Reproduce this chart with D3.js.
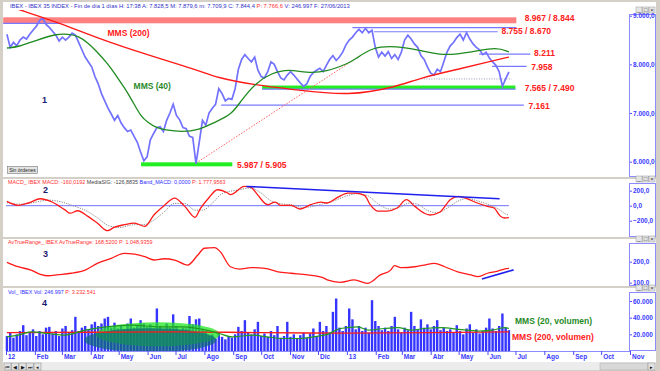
<!DOCTYPE html>
<html>
<head>
<meta charset="utf-8">
<script src="https://cdn.jsdelivr.net/npm/d3@7"></script>
<style>
  body { margin: 0; background: #fff; }
  svg { display: block; font-family: "Liberation Sans", Arial, sans-serif; }
</style>
</head>
<body>
<script>
// ---- data ----
const priceStart = "2012-01-02"
const priceStepDays = 3.5
const priceClose = [
  8620, 8350, 8450, 8380, 8500, 8560, 8520, 8620, 8700, 8780, 8900, 8950, 8820, 8760, 8680, 8600,
  8480, 8560, 8500, 8560, 8640, 8600, 8450, 8300, 8150, 8050, 7950, 7750, 7600, 7400, 7250, 7100,
  6980, 6850, 6950, 6800, 6700, 6620, 6650, 6520, 6400, 6200, 6020, 6100, 6450, 6580, 6700, 6720,
  6620, 6850, 7000, 7180, 6950, 6860, 6700, 6680, 6520, 6500, 5960, 6400, 6850, 6750, 7000, 7100,
  7180, 7500, 7400, 7250, 7300, 7280, 7500, 7900, 8100, 8200, 8120, 8050, 8150, 7880, 7750, 7720,
  7850, 8050, 8000, 7850, 7720, 7680, 7780, 7850, 7780, 7700, 7620, 7550, 7600, 7750, 7830, 7880,
  7920, 7850, 7980, 8100, 8180, 8080, 8150, 8250, 8400, 8500, 8560, 8650, 8720, 8650, 8740, 8650,
  8700, 8350, 8150, 8250, 8170, 8260, 8120, 8200, 8100, 8250, 8500, 8600, 8520, 8420, 8350, 8180,
  8100, 7950, 7820, 7780, 7900, 7850, 8050, 8250, 8380, 8450, 8550, 8620, 8500, 8650, 8520, 8420,
  8350, 8300, 8200, 8250, 8130, 8050, 7980, 7850, 7550, 7700, 7844
]
const volumeK = [
  18, 22, 16, 20, 24, 31, 19, 22, 26, 18, 24, 20, 28, 29, 21, 24,
  18, 27, 30, 22, 25, 41, 24, 28, 30, 26, 32, 35, 30, 33, 39, 41,
  28, 34, 27, 30, 26, 33, 39, 28, 30, 37, 33, 29, 32, 27, 51, 30,
  26, 33, 28, 44, 30, 25, 28, 27, 42, 32, 38, 39, 27, 24, 18, 20,
  15, 22, 17, 14, 18, 16, 20, 29, 24, 37, 22, 20, 26, 35, 18, 21,
  17, 24, 19, 30, 16, 18, 35, 17, 20, 15, 19, 22, 16, 21, 27, 18,
  35, 24, 30, 22, 47, 63, 28, 24, 30, 51, 38, 26, 30, 24, 28, 22,
  61, 36, 30, 25, 28, 24, 30, 41, 26, 22, 28, 25, 47, 30, 26, 38,
  28, 32, 26, 30, 37, 25, 28, 24, 26, 22, 31, 24, 20, 27, 32, 22,
  26, 21, 24, 28, 39, 27, 24, 30, 45, 28, 25
]

const mms40Dates = ["2012-01-02", "2012-01-14", "2012-02-04", "2012-02-23", "2012-03-08", "2012-03-19",
  "2012-03-29", "2012-04-06", "2012-04-20", "2012-04-27", "2012-05-08", "2012-05-15", "2012-05-25",
  "2012-06-02", "2012-06-09", "2012-06-20", "2012-07-08", "2012-07-26", "2012-08-13", "2012-08-30",
  "2012-09-10", "2012-09-25", "2012-10-12", "2012-10-31", "2012-11-18", "2012-12-10", "2013-01-03",
  "2013-01-09", "2013-01-28", "2013-02-23", "2013-03-20", "2013-04-14", "2013-05-16", "2013-06-11",
  "2013-06-24"]
const mms40 = [8336, 8357, 8500, 8624, 8624, 8583, 8440, 8295, 8000, 7800, 7500, 7270, 6920,
  6800, 6710, 6650, 6610, 6650, 6820, 6960, 7270, 7617, 7823, 7905, 7823, 7843, 8028,
  8090, 8357, 8377, 8295, 8172, 8254, 8357, 8254]

const mms200Dates = ["2012-01-02", "2012-01-16", "2012-02-28", "2012-04-08", "2012-05-31", "2012-07-24",
  "2012-08-15", "2012-09-24", "2012-11-09", "2013-01-03", "2013-02-23", "2013-03-20", "2013-05-06",
  "2013-05-31", "2013-06-24"]
const mms200 = [9210, 9117, 8850, 8540, 8200, 7890, 7720, 7576, 7473, 7350, 7535, 7720, 7925, 8043, 8150]

const macdDates = ["2012-01-02", "2012-01-14", "2012-01-25", "2012-02-07", "2012-02-18", "2012-03-04",
  "2012-03-10", "2012-03-18", "2012-03-29", "2012-04-08", "2012-04-19", "2012-04-26", "2012-05-07",
  "2012-05-18", "2012-05-29", "2012-06-08", "2012-06-19", "2012-06-30", "2012-07-11", "2012-07-22",
  "2012-07-28", "2012-08-05", "2012-08-15", "2012-08-26", "2012-08-29", "2012-09-13", "2012-09-20",
  "2012-09-27", "2012-10-08", "2012-10-16", "2012-10-22", "2012-11-02", "2012-11-12", "2012-11-23",
  "2012-12-04", "2012-12-11", "2012-12-22", "2013-01-02", "2013-01-09", "2013-01-20", "2013-01-26",
  "2013-02-03", "2013-02-13", "2013-02-24", "2013-03-06", "2013-03-15", "2013-03-25", "2013-03-31",
  "2013-04-11", "2013-04-22", "2013-05-01", "2013-05-10", "2013-05-21", "2013-06-01", "2013-06-08",
  "2013-06-15", "2013-06-19", "2013-06-24"]
const macd = [57, 5, 36, 93, 57, -53, -100, -67, -142, -231, -333, -289, -253,
  -231, -276, -120, 4, 102, -9, -156, -31, 93, 213, 169, 147, 257, 244,
  147, 13, 49, 4, 4, -44, 13, 49, 36, 111, 169, 169, 137, 13,
  -71, -71, -31, 80, -9, -100, -124, -84, 80, 124, 93, 36, -9, -31,
  -142, -164, -160]

const signalDates = ["2012-01-02", "2012-01-14", "2012-01-30", "2012-02-15", "2012-02-26", "2012-03-13",
  "2012-03-29", "2012-04-08", "2012-04-21", "2012-05-02", "2012-05-16", "2012-05-29", "2012-06-08",
  "2012-06-19", "2012-06-30", "2012-07-11", "2012-07-22", "2012-07-30", "2012-08-10", "2012-08-20",
  "2012-09-06", "2012-09-20", "2012-09-30", "2012-10-11", "2012-10-22", "2012-11-04", "2012-11-15",
  "2012-11-25", "2012-12-06", "2012-12-17", "2013-01-02", "2013-01-12", "2013-01-23", "2013-02-03",
  "2013-02-16", "2013-02-27", "2013-03-09", "2013-03-18", "2013-03-28", "2013-04-08", "2013-04-19",
  "2013-04-30", "2013-05-10", "2013-05-21", "2013-06-01", "2013-06-12", "2013-06-19", "2013-06-24"]
const signal = [40, 20, 40, 75, 60, 0, -80, -160, -270, -290, -255, -250, -190,
  -80, 30, 30, -60, -60, 40, 160, 210, 235, 175, 70, 25, 10, -25,
  -10, 25, 60, 135, 160, 135, 30, -45, -20, 35, 20, -60, -95, -30,
  60, 95, 65, 20, -40, -100, -127]

const atrDates = ["2012-01-02", "2012-01-14", "2012-01-28", "2012-02-07", "2012-02-15", "2012-02-26",
  "2012-03-11", "2012-03-26", "2012-04-08", "2012-04-23", "2012-05-07", "2012-05-18", "2012-05-29",
  "2012-06-08", "2012-06-19", "2012-06-30", "2012-07-14", "2012-07-25", "2012-08-01", "2012-08-12",
  "2012-08-18", "2012-08-29", "2012-09-08", "2012-09-20", "2012-10-05", "2012-10-19", "2012-11-02",
  "2012-11-20", "2012-12-08", "2012-12-11", "2012-12-25", "2013-01-09", "2013-01-23", "2013-02-06",
  "2013-02-17", "2013-02-21", "2013-02-28", "2013-03-15", "2013-03-25", "2013-04-05", "2013-04-16",
  "2013-04-30", "2013-05-14", "2013-05-22", "2013-06-01", "2013-06-12", "2013-06-19", "2013-06-24"]
const atr = [197, 176, 160, 140, 133, 138, 145, 160, 192, 216, 240, 236, 224,
  208, 214, 208, 184, 232, 264, 267, 248, 176, 165, 172, 168, 152, 145,
  137, 121, 113, 102, 113, 97, 137, 160, 181, 172, 176, 184, 192, 176,
  152, 137, 129, 145, 155, 165, 168]

const vol20Dates = ["2012-01-02", "2012-01-14", "2012-01-28", "2012-02-15", "2012-03-04", "2012-03-26",
  "2012-04-17", "2012-05-15", "2012-06-14", "2012-07-09", "2012-08-03", "2012-08-17", "2012-08-31",
  "2012-09-22", "2012-10-07", "2012-10-24", "2012-11-12", "2012-11-26", "2012-12-11", "2012-12-25",
  "2013-01-13", "2013-01-24", "2013-02-10", "2013-02-25", "2013-03-11", "2013-03-25", "2013-04-13",
  "2013-05-01", "2013-05-23", "2013-06-06", "2013-06-20", "2013-06-24"]
const vol20 = [17, 19, 23, 21, 19, 25, 29, 31, 29, 29, 25, 21, 17, 19, 17, 15, 15, 17, 20, 27,
  29, 25, 27, 28, 25, 27, 28, 26, 24, 25, 28, 27]

const vol200Dates = ["2012-01-02", "2012-04-01", "2012-07-01", "2012-10-01", "2013-01-01", "2013-04-01", "2013-06-24"]
const vol200 = [22, 22.5, 23, 22, 21.5, 22, 23]

// support / resistance levels
const bandTop = [8967, 7565, 5987]
const bandBottom = [8844, 7490, 5905]
const bandFrom = ["2011-12-29", "2012-10-02", "2012-05-25"]
const bandTo = ["2013-07-02", "2013-07-01", "2012-08-31"]

const levelValue = [8844, 8755, 8670, 8211, 7958, 7490, 7161]
const levelFrom = ["2011-12-29", "2013-01-07", "2013-01-30", "2013-05-23", "2013-06-06", "2012-10-02", "2012-08-19"]
const levelTo = ["2012-02-29", "2013-07-02", "2013-06-12", "2013-07-17", "2013-07-13", "2013-07-01", "2013-07-10"]

const labelText = ["8.967 / 8.844", "8.755 / 8.670", "8.211", "7.958", "7.565 / 7.490", "7.161", "5.987 / 5.905"]
const labelValue = [8950, 8680, 8230, 7950, 7520, 7150, 5940]
const labelDate = ["2013-07-11", "2013-06-16", "2013-07-21", "2013-07-18", "2013-07-11", "2013-07-15", "2012-09-05"]

const dottedLevel = { value: 7700, from: "2013-03-22", to: "2013-06-27" }
const trendFrom = ["2012-07-23", 5970]
const trendTo = ["2013-01-05", 8050]
const macdTrend = [["2012-09-15", 257], ["2013-06-14", 93]]
const atrTrend = [["2013-05-26", 118], ["2013-06-29", 161]]

const monthTicks = ["2012-01-01", "2012-02-01", "2012-03-01", "2012-04-01", "2012-05-01", "2012-06-01",
  "2012-07-01", "2012-08-01", "2012-09-01", "2012-10-01", "2012-11-01", "2012-12-01", "2013-01-01",
  "2013-02-01", "2013-03-01", "2013-04-01", "2013-05-01", "2013-06-01", "2013-07-01", "2013-08-01",
  "2013-09-01", "2013-10-01", "2013-11-01"]
const monthLabels = ["12", "Feb", "Mar", "Abr", "May", "Jun", "Jul", "Ago", "Sep", "Oct", "Nov", "Dic",
  "13", "Feb", "Mar", "Abr", "May", "Jun", "Jul", "Ago", "Sep", "Oct", "Nov"]

// ---- setup ----
const W = 660, H = 371
const parse = d3.timeParse("%Y-%m-%d")
const es = d3.formatLocale({ decimal: ",", thousands: ".", grouping: [3], currency: ["", ""] })
const fmtPrice = es.format(",.1f")
const fmtVol = es.format(",.0f")

const priceDates = priceClose.map((_, i) => d3.timeHour.offset(parse(priceStart), i * priceStepDays * 24))

const x = d3.scaleTime()
  .domain([parse("2012-01-01"), parse("2013-11-01")])
  .range([6, 630])

const plotLeft = 3, boxLeft = 629, boxRight = 656

const svg = d3.select("body").append("svg").attr("width", W).attr("height", H)
svg.append("rect").attr("width", W).attr("height", H).attr("fill", "#d4d0c8")

// header bar
svg.append("rect").attr("x", plotLeft).attr("y", 2).attr("width", boxRight - plotLeft).attr("height", 8).attr("fill", "#fff")

function makePanel(id, top, bottom, y, ticks, fmt) {
  svg.append("rect")
    .attr("x", plotLeft).attr("y", top)
    .attr("width", boxRight - plotLeft).attr("height", bottom - top)
    .attr("fill", "#fff")
  svg.append("clipPath").attr("id", "clip-" + id)
    .append("rect")
    .attr("x", plotLeft).attr("y", top)
    .attr("width", boxLeft - plotLeft).attr("height", bottom - top)

  // right axis box
  svg.append("rect")
    .attr("x", boxLeft + 0.5).attr("y", top + 4.5)
    .attr("width", boxRight - boxLeft - 1).attr("height", bottom - top - 5)
    .attr("fill", "#fff")
    .attr("stroke", "#8c8cff")
  const ax = svg.append("g")
    .attr("transform", `translate(${boxLeft + 1},0)`)
    .call(d3.axisRight(y).tickValues(ticks).tickSize(2).tickPadding(1).tickFormat(fmt))
  ax.select(".domain").remove()
  ax.selectAll("line").attr("stroke", "#5050ff")
  ax.selectAll("text")
    .attr("fill", "#3a3aff")
    .attr("font-size", "6.5px")
    .attr("font-weight", "bold")
    .attr("font-family", "Liberation Sans, Arial, sans-serif")

  // window buttons
  const icons = svg.append("g").attr("transform", `translate(${boxRight - 20},${top - 3})`)
  ;["_", "□", "×"].forEach((s, i) => {
    icons.append("rect").attr("x", i * 6.5).attr("y", 0).attr("width", 6).attr("height", 6)
      .attr("fill", "#e6e6e6").attr("stroke", "#999").attr("stroke-width", 0.5)
    icons.append("text").attr("x", i * 6.5 + 3).attr("y", 5).attr("text-anchor", "middle")
      .attr("font-size", "6px").attr("fill", "#333").text(s)
  })

  return svg.append("g").attr("clip-path", `url(#clip-${id})`)
}

// ---- main price panel ----
const yP = d3.scaleLinear().domain([6000, 9000]).range([161.7, 15.7])
const gMain = makePanel("main", 10, 177, yP, [6000, 7000, 8000, 9000], fmtPrice)

bandTop.forEach((top, i) => {
  gMain.append("rect")
    .attr("x", x(parse(bandFrom[i])))
    .attr("y", yP(top))
    .attr("width", x(parse(bandTo[i])) - x(parse(bandFrom[i])))
    .attr("height", yP(bandBottom[i]) - yP(top))
    .attr("fill", i === 0 ? "#ff8080" : "#22ee22")
})

levelValue.forEach((v, i) => {
  gMain.append("line")
    .attr("x1", x(parse(levelFrom[i]))).attr("x2", x(parse(levelTo[i])))
    .attr("y1", yP(v)).attr("y2", yP(v))
    .attr("stroke", "#7878ff").attr("stroke-width", 1.2)
})

gMain.append("line")
  .attr("x1", x(parse(dottedLevel.from))).attr("x2", x(parse(dottedLevel.to)))
  .attr("y1", yP(dottedLevel.value)).attr("y2", yP(dottedLevel.value))
  .attr("stroke", "#9a9ab8").attr("stroke-dasharray", "1,1.5")

gMain.append("line")
  .attr("x1", x(parse(trendFrom[0]))).attr("y1", yP(trendFrom[1]))
  .attr("x2", x(parse(trendTo[0]))).attr("y2", yP(trendTo[1]))
  .attr("stroke", "#ff6060").attr("stroke-dasharray", "1.5,1.5")

const lineP = d3.line().x((d) => x(d[0])).y((d) => yP(d[1]))

gMain.append("path")
  .datum(priceDates.map((d, i) => [d, priceClose[i]]))
  .attr("d", lineP)
  .attr("fill", "none")
  .attr("stroke", "#7272ff")
  .attr("stroke-width", 1.7)

gMain.append("path")
  .datum(mms200Dates.map((d, i) => [parse(d), mms200[i]]))
  .attr("d", lineP.curve(d3.curveBasis))
  .attr("fill", "none").attr("stroke", "#ff1a1a").attr("stroke-width", 1.4)

gMain.append("path")
  .datum(mms40Dates.map((d, i) => [parse(d), mms40[i]]))
  .attr("d", lineP.curve(d3.curveBasis))
  .attr("fill", "none").attr("stroke", "#1f8a1f").attr("stroke-width", 1.3)

labelText.forEach((t, i) => {
  svg.append("text")
    .attr("x", x(parse(labelDate[i])))
    .attr("y", yP(labelValue[i]))
    .attr("dy", "0.35em")
    .attr("font-size", "8.5px").attr("font-weight", "bold")
    .attr("fill", "#ff2020")
    .text(t)
})

svg.append("text").attr("x", x(parse("2012-04-19"))).attr("y", yP(8645)).attr("dy", "0.35em")
  .attr("font-size", "8.5px").attr("font-weight", "bold").attr("fill", "#ff2020").text("MMS (200)")
svg.append("text").attr("x", x(parse("2012-05-17"))).attr("y", yP(7562)).attr("dy", "0.35em")
  .attr("font-size", "8.5px").attr("font-weight", "bold").attr("fill", "#2a8a2a").text("MMS (40)")

// "Sin órdenes" button
svg.append("rect").attr("x", 7.5).attr("y", 166.5).attr("width", 30).attr("height", 7)
  .attr("fill", "#e4e4e4").attr("stroke", "#777").attr("stroke-width", 0.6)
svg.append("text").attr("x", 22.5).attr("y", 172).attr("text-anchor", "middle")
  .attr("font-size", "5px").attr("fill", "#222").text("Sin órdenes")

// header
const header = svg.append("text").attr("x", 10).attr("y", 8).attr("font-size", "5.8px").attr("fill", "#3232c8")
header.append("tspan").text("IBEX - IBEX 35 INDEX - Fin de día 1 días H: 17:38 A: 7.828,5 M: 7.879,6 m: 7.709,9 C: 7.844,4 ")
header.append("tspan").attr("fill", "#ff3030").text("P: 7.766,6 ")
header.append("tspan").text("V: 246.997 F: 27/06/2013")

// ---- MACD panel ----
const yM = d3.scaleLinear().domain([-200, 200]).range([220.7, 190.7])
const gMacd = makePanel("macd", 179, 237, yM, [-200, 0, 200], fmtPrice)
const lineM = d3.line().x((d) => x(d[0])).y((d) => yM(d[1])).curve(d3.curveMonotoneX)

gMacd.append("line").attr("x1", x(parse("2012-01-01"))).attr("x2", x(parse("2013-06-24")))
  .attr("y1", yM(0)).attr("y2", yM(0)).attr("stroke", "#7070ff").attr("stroke-width", 1)
gMacd.append("path")
  .datum(signalDates.map((d, i) => [parse(d), signal[i]]))
  .attr("d", lineM).attr("fill", "none")
  .attr("stroke", "#888").attr("stroke-width", 1).attr("stroke-dasharray", "1.2,1.2")
gMacd.append("path")
  .datum(macdDates.map((d, i) => [parse(d), macd[i]]))
  .attr("d", lineM).attr("fill", "none")
  .attr("stroke", "#ff1a1a").attr("stroke-width", 1.3)
gMacd.append("line")
  .attr("x1", x(parse(macdTrend[0][0]))).attr("y1", yM(macdTrend[0][1]))
  .attr("x2", x(parse(macdTrend[1][0]))).attr("y2", yM(macdTrend[1][1]))
  .attr("stroke", "#2020ee").attr("stroke-width", 1.6)

const mh = svg.append("text").attr("x", 8).attr("y", 184).attr("font-size", "5.4px")
mh.append("tspan").attr("fill", "#ff3030").text("MACD_ IBEX MACD: -160,0192 ")
mh.append("tspan").attr("fill", "#444").text("MediaSIG: -126,8835 ")
mh.append("tspan").attr("fill", "#3030ff").text("Band_MACD: 0,0000 ")
mh.append("tspan").attr("fill", "#ff3030").text("P: 1.777,9563")

// ---- ATR panel ----
const yA = d3.scaleLinear().domain([100, 200]).range([282.7, 261.7])
const gAtr = makePanel("atr", 239, 286, yA, [100, 200], fmtPrice)
gAtr.append("path")
  .datum(atrDates.map((d, i) => [parse(d), atr[i]]))
  .attr("d", d3.line().x((d) => x(d[0])).y((d) => yA(d[1])).curve(d3.curveMonotoneX))
  .attr("fill", "none").attr("stroke", "#ff1a1a").attr("stroke-width", 1.3)
gAtr.append("line")
  .attr("x1", x(parse(atrTrend[0][0]))).attr("y1", yA(atrTrend[0][1]))
  .attr("x2", x(parse(atrTrend[1][0]))).attr("y2", yA(atrTrend[1][1]))
  .attr("stroke", "#2020ee").attr("stroke-width", 1.6)
svg.append("text").attr("x", 8).attr("y", 244).attr("font-size", "5.4px").attr("fill", "#ff3030")
  .text("AvTrueRange_ IBEX AvTrueRange: 168,5200 P: 1.048,9359")

// ---- volume panel ----
const yV = d3.scaleLinear().domain([0, 60]).range([351, 301])
const gVol = makePanel("vol", 288, 351, yV, [20, 40, 60], (d) => fmtVol(d * 1000))
const barW = 2.4

gVol.selectAll(".bar")
  .data(volumeK)
  .enter()
  .append("rect")
  .attr("x", (d, i) => x(priceDates[i]) - barW / 2)
  .attr("y", (d) => yV(d))
  .attr("width", barW)
  .attr("height", (d) => yV(0) - yV(d))
  .attr("fill", "#3535ff")

// highlighted volume zone, laid over the bars
gVol.append("ellipse").attr("cx", x(parse("2012-06-12"))).attr("cy", yV(20)).attr("rx", 62).attr("ry", 12)
  .attr("fill", "#22e622").attr("opacity", 0.75)
gVol.append("ellipse").attr("cx", x(parse("2012-06-04"))).attr("cy", yV(13)).attr("rx", 66).attr("ry", 12)
  .attr("fill", "#0b6a78").attr("opacity", 0.7)

const lineV = d3.line().x((d) => x(d[0])).y((d) => yV(d[1])).curve(d3.curveMonotoneX)
gVol.append("path")
  .datum(vol200Dates.map((d, i) => [parse(d), vol200[i]]))
  .attr("d", lineV).attr("fill", "none").attr("stroke", "#ff1a1a").attr("stroke-width", 1.4)
gVol.append("path")
  .datum(vol20Dates.map((d, i) => [parse(d), vol20[i]]))
  .attr("d", lineV).attr("fill", "none").attr("stroke", "#1f9a1f").attr("stroke-width", 1.2)

svg.append("text").attr("x", 515).attr("y", 321).attr("dy", "0.35em")
  .attr("font-size", "8.5px").attr("font-weight", "bold").attr("fill", "#1f8a1f").text("MMS (20, volumen)")
svg.append("text").attr("x", 512).attr("y", 337).attr("dy", "0.35em")
  .attr("font-size", "8.5px").attr("font-weight", "bold").attr("fill", "#ff2020").text("MMS (200, volumen)")

const vh = svg.append("text").attr("x", 8).attr("y", 294).attr("font-size", "5.4px")
vh.append("tspan").attr("fill", "#3030ff").text("Vol_ IBEX Vol: 246.997 ")
vh.append("tspan").attr("fill", "#ff3030").text("P: 3.232.541")

// panel numbers
;[[42, 100, "1"], [43, 190, "2"], [43, 254, "3"], [42, 303, "4"]].forEach(([px, py, t]) => {
  svg.append("text").attr("x", px).attr("y", py).attr("dy", "0.35em")
    .attr("font-size", "9px").attr("font-weight", "bold").attr("fill", "#1a1a70").text(t)
})

// ---- x axis ----
svg.append("rect").attr("x", plotLeft).attr("y", 351).attr("width", boxRight - plotLeft).attr("height", 11).attr("fill", "#fff")
const xa = svg.append("g").attr("transform", "translate(0,351)")
  .call(d3.axisBottom(x).tickValues(monthTicks.map(parse)).tickSize(4).tickPadding(0)
    .tickFormat((d, i) => monthLabels[i]))
xa.select(".domain").attr("stroke", "#8c8cff")
xa.selectAll("line").attr("stroke", "#4a4aff")
xa.selectAll("text")
  .attr("text-anchor", "start").attr("dx", "1.5px").attr("dy", "0.55em")
  .attr("fill", "#3a3aff").attr("font-size", "6.5px").attr("font-weight", "bold")
  .attr("font-family", "Liberation Sans, Arial, sans-serif")

// ---- navigation bar ----
svg.append("rect").attr("x", plotLeft).attr("y", 362).attr("width", boxRight - plotLeft).attr("height", 8).attr("fill", "#ececec")
;["⏮", "◀", "▶", "⏭", "◂"].forEach((s, i) => {
  svg.append("rect").attr("x", 4 + i * 7.5).attr("y", 363).attr("width", 7).attr("height", 7)
    .attr("fill", "#e2e2e2").attr("stroke", "#888").attr("stroke-width", 0.5)
  svg.append("text").attr("x", 7.5 + i * 7.5).attr("y", 369).attr("text-anchor", "middle")
    .attr("font-size", "5px").attr("fill", "#111").text(s)
})
svg.append("rect").attr("x", 600).attr("y", 363).attr("width", 48).attr("height", 7)
  .attr("fill", "#d8d8d8").attr("stroke", "#aaa").attr("stroke-width", 0.5)
svg.append("rect").attr("x", 648).attr("y", 363).attr("width", 7).attr("height", 7)
  .attr("fill", "#e2e2e2").attr("stroke", "#888").attr("stroke-width", 0.5)
svg.append("text").attr("x", 651.5).attr("y", 369).attr("text-anchor", "middle")
  .attr("font-size", "5px").text("▸")
</script>
</body>
</html>
